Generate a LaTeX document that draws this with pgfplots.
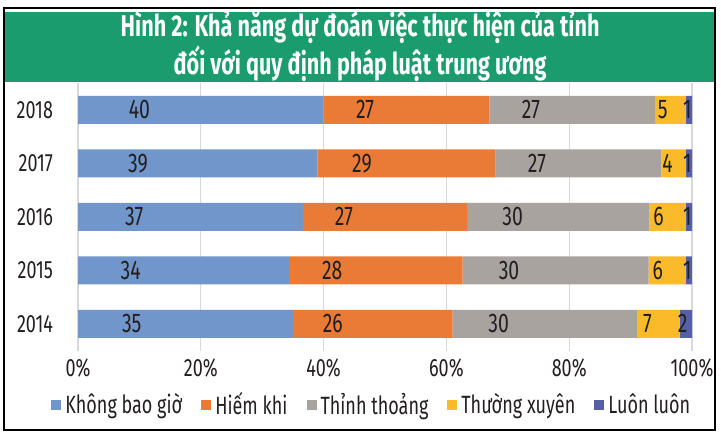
\documentclass[border=0pt]{standalone}
\usepackage{fontspec}
\setmainfont{Fira Sans}[FakeStretch=0.72]
\usepackage{pgfplots}
\pgfplotsset{compat=1.18}
\usepackage{pgfplotstable}

\definecolor{cA}{HTML}{7096CB}
\definecolor{cB}{HTML}{EA7B36}
\definecolor{cC}{HTML}{A8A39F}
\definecolor{cD}{HTML}{FBBA2A}
\definecolor{cE}{HTML}{5660A8}
\definecolor{cG}{HTML}{1B9C6E}
\definecolor{ink}{HTML}{231F20}

% y: 0 = 2014 ... 4 = 2018; s = row total
\pgfplotstableread{
y k h t x l s
0 35 26 30 7 2 100
1 34 28 30 6 1 99
2 37 27 30 6 1 101
3 39 29 27 4 1 100
4 40 27 27 5 1 100
}\data

\newcommand\seg[2]{%
  \addplot[fill=#2, draw=none,
    visualization depends on={\thisrow{#1}*25/\thisrow{s} \as \half}]
    table[x expr=\thisrow{#1}*100/\thisrow{s}, y=y, meta=#1] {\data};}

\begin{document}
\begin{tikzpicture}
\path (0,0) rectangle (360.5pt,-221pt);
\draw[line width=0.8pt] (2pt,-4pt) rectangle (357.5pt,-215pt);
\fill[cG] (2.5pt,-6pt) rectangle (357pt,-41pt);
\node[align=center, text=white, font=\bfseries\fontsize{15}{13.5}\selectfont]
  at (180pt,-23.3pt) {Hình 2: Khả năng dự đoán việc thực hiện của tỉnh\\đối với quy định pháp luật trung ương};
\begin{axis}[
    at={(39pt,-175.25pt)}, anchor=south west,
    scale only axis, width=307pt, height=133.75pt,
    xbar stacked, bar width=14pt,
    xmin=0, xmax=100, ymin=-0.5, ymax=4.5,
    xtick={0,20,...,100},
    xticklabel={\pgfmathprintnumber{\tick}\%},
    ytick={0,...,4},
    yticklabels={2014,2015,2016,2017,2018},
    /pgf/number format/assume math mode=true,
    ticklabel style={font=\fontsize{12.5}{13}\selectfont, text=ink},
    xticklabel style={yshift=-0.5pt},
    yticklabel style={xshift=-9pt},
    xmajorgrids, grid style={draw=black!15, line width=0.6pt},
    axis line style={draw=none},
    major tick length=0pt,
    point meta=explicit symbolic,
    nodes near coords,
    every node near coord/.append style={anchor=center,
      shift={(axis direction cs:-\half,0)},
      font=\fontsize{13.5}{14}\selectfont, text=ink},
    legend columns=5,
    legend style={at={(0.48,-0.204)}, anchor=center, draw=none,
      font=\fontsize{12.5}{13}\selectfont, text=ink,
      /tikz/every even column/.append style={column sep=7.5pt}},
    legend image code/.code={\path[#1] (0pt,-2.5pt) rectangle (5pt,2.5pt);},
]
\seg{k}{cA}
\seg{h}{cB}
\seg{t}{cC}
\seg{x}{cD}
\seg{l}{cE}
\legend{Không bao giờ, Hiếm khi, Thỉnh thoảng, Thường xuyên, Luôn luôn}
\end{axis}
\end{tikzpicture}
\end{document}
